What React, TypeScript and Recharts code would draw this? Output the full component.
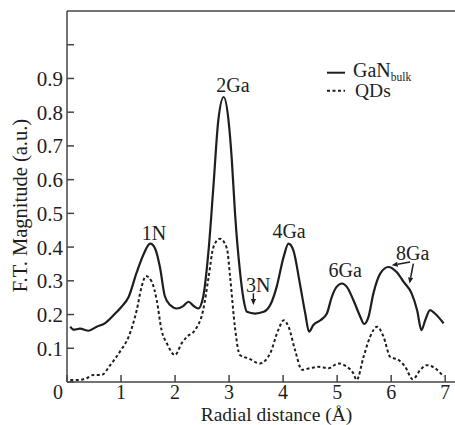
import React from "react";
import {
  LineChart,
  Line,
  XAxis,
  YAxis,
  Legend,
  Label,
  ReferenceDot,
  ReferenceLine,
} from "recharts";

// radial distance (Å) and FT magnitude for bulk GaN
const bulkR = [
  0.06, 0.12, 0.24, 0.4, 0.55, 0.7, 0.86, 1.01, 1.14, 1.29, 1.41, 1.54, 1.63,
  1.72, 1.81, 1.91, 2.03, 2.15, 2.25, 2.34, 2.43, 2.52, 2.62, 2.71, 2.8, 2.9,
  2.99, 3.05, 3.11, 3.2, 3.27, 3.33, 3.48, 3.64, 3.79, 3.88, 4.01, 4.1, 4.19,
  4.31, 4.41, 4.48, 4.56, 4.69, 4.81, 4.9, 4.99, 5.09, 5.18, 5.3, 5.43, 5.5,
  5.58, 5.67, 5.8, 5.95, 6.1, 6.23, 6.38, 6.48, 6.56, 6.63, 6.72, 6.81, 6.97,
];
const bulkMag = [
  0.164, 0.155, 0.158, 0.152, 0.164, 0.174, 0.198, 0.223, 0.252, 0.325, 0.376,
  0.41, 0.396, 0.341, 0.255, 0.228, 0.218, 0.225, 0.238, 0.226, 0.218, 0.252,
  0.39, 0.58, 0.775, 0.845, 0.775, 0.66, 0.5, 0.33, 0.243, 0.208, 0.203, 0.208,
  0.238, 0.282, 0.371, 0.41, 0.39, 0.292, 0.203, 0.149, 0.169, 0.183, 0.203,
  0.252, 0.282, 0.292, 0.282, 0.243, 0.193, 0.172, 0.193, 0.262, 0.322, 0.341,
  0.326, 0.297, 0.262, 0.213, 0.154, 0.183, 0.213, 0.203, 0.174,
];

// same for the quantum dots
const qdR = [
  0.06, 0.21, 0.36, 0.49, 0.64, 0.8, 0.98, 1.14, 1.29, 1.38, 1.46, 1.57, 1.66,
  1.75, 1.85, 2.0, 2.12, 2.22, 2.37, 2.52, 2.62, 2.71, 2.83, 2.96, 3.02, 3.11,
  3.2, 3.36, 3.57, 3.76, 3.91, 4.01, 4.1, 4.22, 4.35, 4.5, 4.65, 4.84, 5.02,
  5.18, 5.3, 5.36, 5.49, 5.61, 5.74, 5.86, 5.98, 6.14, 6.26, 6.4, 6.54, 6.66,
  6.81, 6.97,
];
const qdMag = [
  0.006, 0.006, 0.011, 0.021, 0.021, 0.05, 0.09, 0.134, 0.213, 0.282, 0.314,
  0.297, 0.243, 0.154, 0.114, 0.08, 0.114, 0.134, 0.154, 0.213, 0.31, 0.4,
  0.425, 0.396, 0.31, 0.16, 0.08, 0.07, 0.055, 0.085, 0.154, 0.183, 0.164,
  0.095, 0.036, 0.041, 0.045, 0.041, 0.055, 0.045, 0.026, 0.006, 0.075, 0.134,
  0.164, 0.134, 0.075, 0.065, 0.045, 0.008, 0.036, 0.05, 0.041, 0.016,
];

const xTicks = [0, 1, 2, 3, 4, 5, 6, 7];
const xTopTicks = [0, 1, 2, 3, 4, 5, 6];
const yTicks = [0, 0.1, 0.2, 0.3, 0.4, 0.5, 0.6, 0.7, 0.8, 0.9, 1.0];

// shell labels: text, r, magnitude
const shellLabels: [string, number, number][] = [
  ["1N", 1.61, 0.441],
  ["2Ga", 3.07, 0.882],
  ["3N", 3.54, 0.287],
  ["4Ga", 4.11, 0.447],
  ["6Ga", 5.15, 0.331],
  ["8Ga", 6.4, 0.382],
];

// arrows: [r1, v1, r2, v2], head at the second point
const arrows: [number, number, number, number][] = [
  [3.45, 0.263, 3.45, 0.228],
  [6.35, 0.356, 6.01, 0.346],
  [6.41, 0.351, 6.34, 0.292],
];

const bulkData = bulkR.map((r, i) => ({ r, v: bulkMag[i] }));
const qdData = qdR.map((r, i) => ({ r, v: qdMag[i] }));

const FONT = '"Liberation Serif", "Times New Roman", serif';
const INK = "#1e1e1e";
const AXIS = "#444";
const QD_DASH = "3 2.5";

const XTick = ({ x, y, payload }: any) => (
  <text
    x={payload.value === 0 ? x - 9 : x}
    y={y}
    dy="0.71em"
    textAnchor="middle"
    fontFamily={FONT}
    fontSize={20}
    fill={INK}
  >
    {payload.value}
  </text>
);

const XTitle = () => (
  <text
    x={276.5}
    y={420.5}
    textAnchor="middle"
    fontFamily={FONT}
    fontSize={19.5}
    fill={INK}
  >
    Radial distance (Å)
  </text>
);

const YTitle = ({ viewBox }: any) => {
  const cx = 20;
  const cy = viewBox.y + viewBox.height / 2 + 9;
  return (
    <text
      x={cx}
      y={cy}
      transform={`rotate(-90 ${cx} ${cy})`}
      textAnchor="middle"
      dy="0.35em"
      fontFamily={FONT}
      fontSize={20.5}
      fill={INK}
    >
      F.T. Magnitude (a.u.)
    </text>
  );
};

const Arrow = ({ x1, y1, x2, y2 }: any) => {
  const ang = Math.atan2(y2 - y1, x2 - x1);
  const len = 6;
  const w = 2.6;
  const bx = x2 - len * Math.cos(ang);
  const by = y2 - len * Math.sin(ang);
  const px = -Math.sin(ang) * w;
  const py = Math.cos(ang) * w;
  return (
    <g>
      <line x1={x1} y1={y1} x2={bx} y2={by} stroke={INK} strokeWidth={1.5} />
      <polygon
        points={`${x2},${y2} ${bx + px},${by + py} ${bx - px},${by - py}`}
        fill={INK}
      />
    </g>
  );
};

const LegendBox = () => (
  <svg width={130} height={45}>
    <line x1={5} y1={12.7} x2={23} y2={12.7} stroke={INK} strokeWidth={2} />
    <text x={31} y={16.7} fontFamily={FONT} fontSize={20} fill={INK}>
      GaN
      <tspan fontSize={11.5} dy={4}>
        bulk
      </tspan>
    </text>
    <line
      x1={5}
      y1={30.7}
      x2={23}
      y2={30.7}
      stroke={INK}
      strokeWidth={2}
      strokeDasharray={QD_DASH}
    />
    <text x={33} y={36.7} fontFamily={FONT} fontSize={19.5} fill={INK}>
      QDs
    </text>
  </svg>
);

export default function App() {
  return (
    <div
      style={{
        position: "absolute",
        left: 0,
        top: 0,
        width: 455,
        height: 425,
        overflow: "hidden",
        background: "#fff",
      }}
    >
      <LineChart
        width={457}
        height={425}
        margin={{ top: 0, right: 0, bottom: 0, left: 0 }}
      >
        <XAxis
          xAxisId="x"
          type="number"
          dataKey="r"
          domain={[0, 7.2]}
          ticks={xTicks}
          allowDataOverflow
          height={43}
          stroke={AXIS}
          strokeWidth={1.5}
          tickSize={-7}
          tickMargin={10}
          tick={<XTick />}
        >
          <Label content={<XTitle />} />
        </XAxis>
        <XAxis
          xAxisId="xTop"
          orientation="top"
          type="number"
          domain={[0, 7.2]}
          ticks={xTopTicks}
          allowDataOverflow
          height={11}
          stroke={AXIS}
          strokeWidth={1.5}
          tickSize={-7}
          tick={false}
        />
        <YAxis
          yAxisId="y"
          type="number"
          domain={[0, 1.1]}
          ticks={yTicks}
          allowDataOverflow
          width={67}
          stroke={AXIS}
          strokeWidth={1.5}
          tickSize={-7}
          tickMargin={11}
          tick={{ fontFamily: FONT, fontSize: 21, fill: INK }}
          tickFormatter={(v: number) =>
            v > 0.05 && v < 0.95 ? v.toFixed(1) : ""
          }
        >
          <Label content={<YTitle />} />
        </YAxis>
        <YAxis
          yAxisId="yRight"
          orientation="right"
          type="number"
          domain={[0, 1.1]}
          ticks={yTicks}
          allowDataOverflow
          width={1}
          stroke={AXIS}
          strokeWidth={1.5}
          tickSize={-7}
          tick={false}
        />

        <Line
          xAxisId="x"
          yAxisId="y"
          data={bulkData}
          dataKey="v"
          name="GaN bulk"
          type="monotone"
          stroke={INK}
          strokeWidth={2.2}
          dot={false}
          activeDot={false}
          isAnimationActive={false}
        />
        <Line
          xAxisId="x"
          yAxisId="y"
          data={qdData}
          dataKey="v"
          name="QDs"
          type="monotone"
          stroke={INK}
          strokeWidth={2}
          strokeDasharray={QD_DASH}
          dot={false}
          activeDot={false}
          isAnimationActive={false}
        />

        {shellLabels.map(([text, r, v]) => (
          <ReferenceDot
            key={text}
            xAxisId="x"
            yAxisId="y"
            x={r}
            y={v}
            r={0}
            fill="none"
            stroke="none"
            label={{
              value: text,
              position: "center",
              fontFamily: FONT,
              fontSize: 20,
              fill: INK,
            }}
          />
        ))}
        {arrows.map(([r1, v1, r2, v2], i) => (
          <ReferenceLine
            key={i}
            xAxisId="x"
            yAxisId="y"
            segment={[
              { x: r1, y: v1 },
              { x: r2, y: v2 },
            ]}
            shape={<Arrow />}
          />
        ))}

        <Legend
          verticalAlign="middle"
          align="center"
          wrapperStyle={{ left: 322, top: 60, width: 130, height: 45 }}
          content={() => <LegendBox />}
        />
      </LineChart>
    </div>
  );
}
